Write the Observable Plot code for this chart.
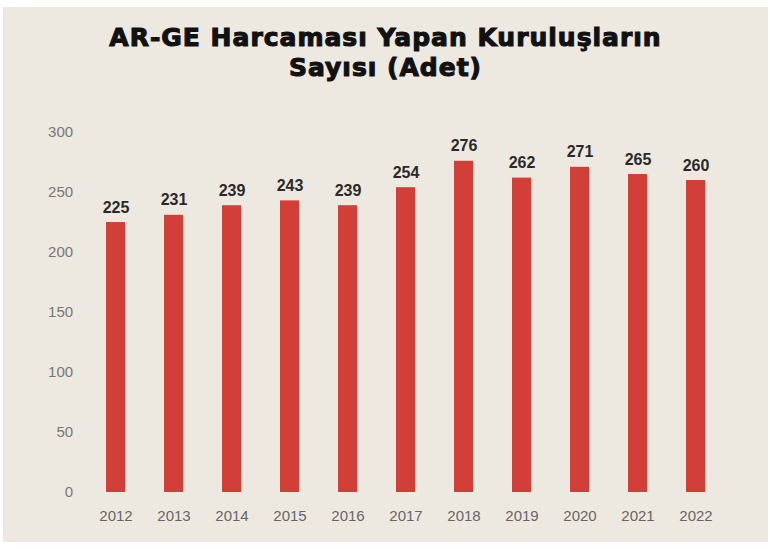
<!DOCTYPE html>
<html>
<head>
<meta charset="utf-8">
<script src="https://cdn.jsdelivr.net/npm/d3@7"></script>
<script src="https://cdn.jsdelivr.net/npm/@observablehq/plot@0.6"></script>
<style>
  html, body { margin: 0; padding: 0; background: #ffffff; }
  #panel {
    position: absolute; left: 3px; top: 7px; width: 765px; height: 535px;
    background: #EEE9E0; overflow: hidden;
  }
  #title {
    margin: 0; padding-top: 16px; height: 76px; box-sizing: border-box;
    text-align: center; font-family: "DejaVu Sans", sans-serif;
    font-weight: bold; font-size: 25px; line-height: 30px; color: #111;
    -webkit-text-stroke: 1.1px #111; letter-spacing: 1px;
  }
  #chart svg { display: block; }
</style>
</head>
<body>
<div id="panel">
  <div id="title">AR-GE Harcaması Yapan Kuruluşların<br>Sayısı (Adet)</div>
  <div id="chart"></div>
</div>
<script>
const years = ["2012","2013","2014","2015","2016","2017","2018","2019","2020","2021","2022"];
const counts = [225, 231, 239, 243, 239, 254, 276, 262, 271, 265, 260];
const yTicks = [0, 50, 100, 150, 200, 250, 300];

const data = years.map((y, i) => ({year: y, value: counts[i]}));

const chart = Plot.plot({
  width: 765,
  height: 459,
  marginTop: 49,
  marginBottom: 50,
  marginLeft: 82.6,
  marginRight: 41.6,
  style: {background: "transparent", fontFamily: "Liberation Sans, Arial, sans-serif"},
  x: {domain: years, paddingInner: 0.67, paddingOuter: 0.35, label: null},
  y: {domain: [0, 300], label: null},
  marks: [
    Plot.axisY({ticks: yTicks, tickSize: 0, tickPadding: 13, fontSize: 15, color: "#777", label: null}),
    Plot.axisX({tickSize: 0, tickPadding: 18, fontSize: 15, color: "#666", label: null}),
    Plot.barY(data, {x: "year", y: "value", fill: "#D23E38"}),
    Plot.text(data, {x: "year", y: "value", text: d => String(d.value), dy: -15,
      fontSize: 16, fontWeight: "bold", fill: "#2a2a2a"})
  ]
});
document.getElementById("chart").appendChild(chart);
</script>
</body>
</html>
